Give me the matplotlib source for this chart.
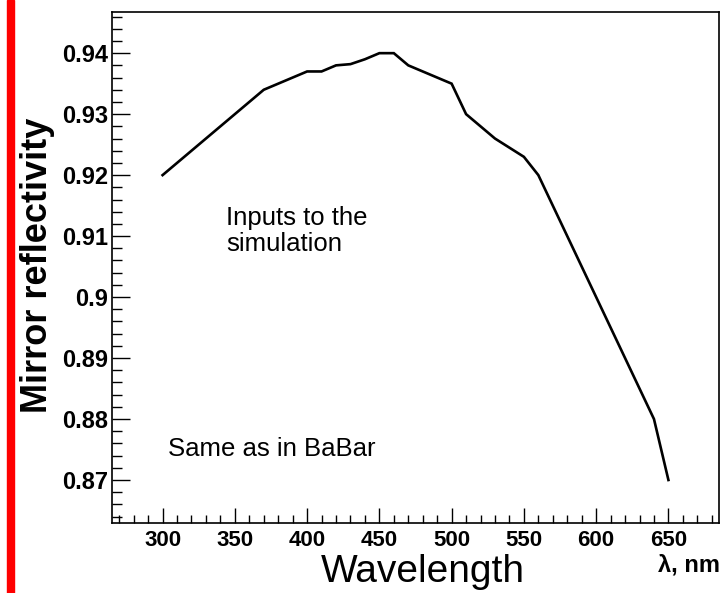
import matplotlib
matplotlib.use("Agg")
import matplotlib.pyplot as plt
from matplotlib.patches import Rectangle
from matplotlib.ticker import MultipleLocator, FuncFormatter

plt.rcParams['font.family'] = ['Liberation Sans', 'DejaVu Sans']

# mirror reflectivity vs wavelength
wavelength = [300, 370, 400, 410, 420, 430, 440, 450, 460, 470, 500, 510, 530, 550, 560, 640, 650]
reflectivity = [0.920, 0.934, 0.937, 0.937, 0.938, 0.9382, 0.939, 0.940, 0.940, 0.938,
                0.935, 0.930, 0.926, 0.923, 0.920, 0.880, 0.870]

W, H = 724, 593
fig = plt.figure(figsize=(W / 100, H / 100), dpi=100)
ax = fig.add_axes([112 / W, 1 - 522.7 / H, (719 - 112) / W, (522.7 - 11.7) / H])

ax.plot(wavelength, reflectivity, color='black', lw=1.9, solid_joinstyle='miter')

ax.set_xlim(265, 685)
ax.set_ylim(0.863, 0.9468)

ax.xaxis.set_major_locator(MultipleLocator(50))
ax.xaxis.set_minor_locator(MultipleLocator(10))
ax.yaxis.set_major_locator(MultipleLocator(0.01))
ax.yaxis.set_minor_locator(MultipleLocator(0.002))
ax.yaxis.set_major_formatter(FuncFormatter(lambda v, p: '%g' % round(v, 3)))

ax.tick_params(axis='both', which='both', direction='in', width=1.0, top=False, right=False)
ax.tick_params(axis='x', which='major', length=11, pad=5, labelsize=16)
ax.tick_params(axis='x', which='minor', length=6)
ax.tick_params(axis='y', which='major', length=13, pad=3, labelsize=17)
ax.tick_params(axis='y', which='minor', length=7)
for lab in ax.get_xticklabels() + ax.get_yticklabels():
    lab.set_fontweight('bold')
for s in ax.spines.values():
    s.set_linewidth(1.2)

# texts
ax.text(0.188, 0.571, 'Inputs to the\nsimulation', transform=ax.transAxes,
        fontsize=18.5, ha='left', va='center', linespacing=1.14)
ax.text(0.093, 0.145, 'Same as in BaBar', transform=ax.transAxes,
        fontsize=18.5, ha='left', va='center')

fig.text(38 / W, 1 - 265 / H, 'Mirror reflectivity', rotation=90, fontsize=26,
         fontweight='bold', ha='center', va='center')
fig.text(423 / W, 1 - 572 / H, 'Wavelength', fontsize=28, ha='center', va='center')
fig.text(720 / W, 1 - 565 / H, 'λ, nm', fontsize=17, fontweight='bold',
         ha='right', va='center')

# red bar on the left side
fig.patches.append(Rectangle((7 / W, 0), 7 / W, 1, transform=fig.transFigure,
                             color='#ff0000', zorder=5))

fig.savefig('out.png', dpi=100)
